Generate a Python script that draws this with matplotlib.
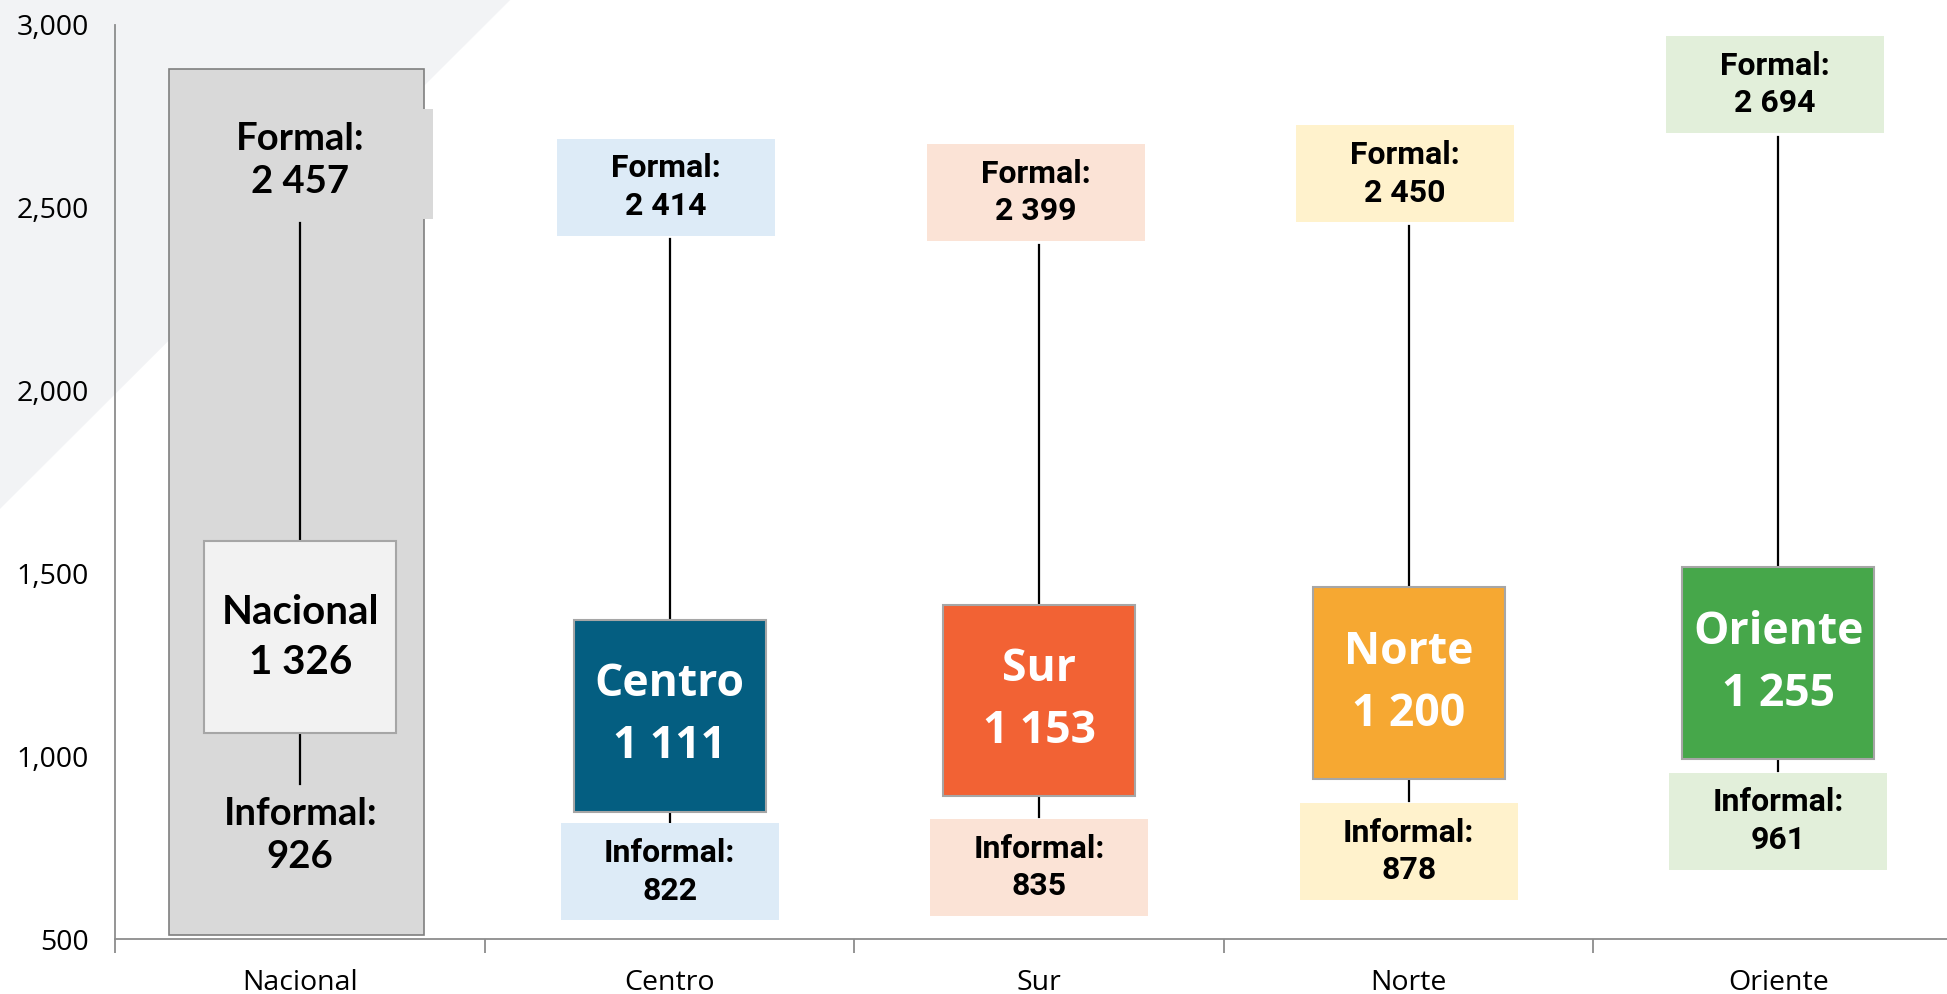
import matplotlib
matplotlib.use("Agg")
import matplotlib.pyplot as plt
from matplotlib.patches import Rectangle, Polygon

# Datos del gráfico
regiones = ["Nacional", "Centro", "Sur", "Norte", "Oriente"]
mediana = [1326, 1111, 1153, 1200, 1255]
formal = [2457, 2414, 2399, 2450, 2694]
informal = [926, 822, 835, 878, 961]
y_ticks = [500, 1000, 1500, 2000, 2500, 3000]

# Estilos
color_caja = ["#F2F2F2", "#045E81", "#F26234", "#F6A832", "#46A74A"]
color_etiqueta = ["#D9D9D9", "#DDEBF7", "#FBE3D6", "#FFF2CC", "#E2EFDA"]
color_texto = ["black", "white", "white", "white", "white"]

MEDIA_CAJA = 262      # media altura de la caja central (unidades del eje)
ANCHO_CAJA = 0.52
ALTO_ETIQ = 265
ANCHO_ETIQ = 0.59


def fmt(v):
    return f"{v:,}".replace(",", " ")


fig = plt.figure(figsize=(19.47, 9.94), dpi=100)
fondo = Polygon([(0, 1), (0.262, 1), (0, 0.488)], closed=True,
                transform=fig.transFigure, facecolor="#F2F3F5",
                edgecolor="none", zorder=-1)
fig.add_artist(fondo)

ax = fig.add_axes([0.0593, 0.0549, 0.9489, 0.9201])
ax.patch.set_alpha(0)
ax.set_xlim(-0.5, 4.5)
ax.set_ylim(500, 3000)

# Panel gris de Nacional
ax.add_patch(Rectangle((-0.355, 513), 0.69, 2367, facecolor="#D9D9D9",
                       edgecolor="#7F7F7F", lw=1.2, zorder=1))

for i, reg in enumerate(regiones):
    # bigote de informal a formal
    ax.plot([i, i], [informal[i], formal[i]], color="black", lw=1.6, zorder=2)
    # caja central
    ax.add_patch(Rectangle((i - ANCHO_CAJA / 2, mediana[i] - MEDIA_CAJA), ANCHO_CAJA,
                           2 * MEDIA_CAJA, facecolor=color_caja[i],
                           edgecolor="#A6A6A6", lw=1.5, zorder=3))
    if i == 0:
        ax.add_patch(Rectangle((-0.33, formal[i] + 13), 0.69, 300,
                               facecolor=color_etiqueta[i], edgecolor="none", zorder=1.5))
        ax.text(i, mediana[i], f"{reg}\n{fmt(mediana[i])}", ha="center", va="center",
                fontsize=29, fontweight="bold", family="Lato", color=color_texto[i],
                linespacing=1.45, zorder=4)
        ax.text(i, formal[i] + 172, f"Formal:\n{fmt(formal[i])}", ha="center", va="center",
                fontsize=27.5, fontweight="bold", family="Lato", linespacing=1.3, zorder=4)
        ax.text(i, informal[i] - 142, f"Informal:\n{fmt(informal[i])}", ha="center",
                va="center", fontsize=27.5, fontweight="bold", family="Lato",
                linespacing=1.3, zorder=4)
        continue
    ax.text(i, mediana[i], f"{reg}\n{fmt(mediana[i])}", ha="center", va="center",
            fontsize=32, fontweight="bold", family="Open Sans", color=color_texto[i],
            linespacing=1.5, zorder=4)
    # etiqueta formal
    ax.add_patch(Rectangle((i - 0.01 - ANCHO_ETIQ / 2, formal[i] + 10), ANCHO_ETIQ, ALTO_ETIQ,
                           facecolor=color_etiqueta[i], edgecolor="none", zorder=3))
    ax.text(i - 0.01, formal[i] + 10 + ALTO_ETIQ / 2, f"Formal:\n{fmt(formal[i])}",
            ha="center", va="center", fontsize=23, fontweight="bold", family="Roboto",
            linespacing=1.3, zorder=4)
    # etiqueta informal
    ax.add_patch(Rectangle((i - ANCHO_ETIQ / 2, informal[i] - 5 - ALTO_ETIQ), ANCHO_ETIQ,
                           ALTO_ETIQ, facecolor=color_etiqueta[i], edgecolor="none", zorder=3))
    ax.text(i, informal[i] - 5 - ALTO_ETIQ / 2, f"Informal:\n{fmt(informal[i])}",
            ha="center", va="center", fontsize=23, fontweight="bold", family="Roboto",
            linespacing=1.3, zorder=4)

# Ejes
for s in ["top", "right"]:
    ax.spines[s].set_visible(False)
ax.spines["left"].set_color("#8C8C8C")
ax.spines["bottom"].set_color("#8C8C8C")
ax.spines["left"].set_linewidth(1.3)
ax.spines["bottom"].set_linewidth(1.3)

ax.set_yticks(y_ticks)
ax.set_yticklabels([f"{t:,}" for t in y_ticks], family="Open Sans", fontsize=20.5)
ax.tick_params(axis="y", length=0, pad=19)

ax.set_xticks([i - 0.5 for i in range(len(regiones))])
ax.set_xticklabels([])
ax.set_xticks(range(len(regiones)), minor=True)
ax.set_xticklabels(regiones, minor=True, family="Open Sans", fontsize=20.5)
ax.tick_params(axis="x", which="major", length=10, color="#8C8C8C", width=1.3)
ax.tick_params(axis="x", which="minor", length=0, pad=21)

fig.savefig("out.png", dpi=100)
